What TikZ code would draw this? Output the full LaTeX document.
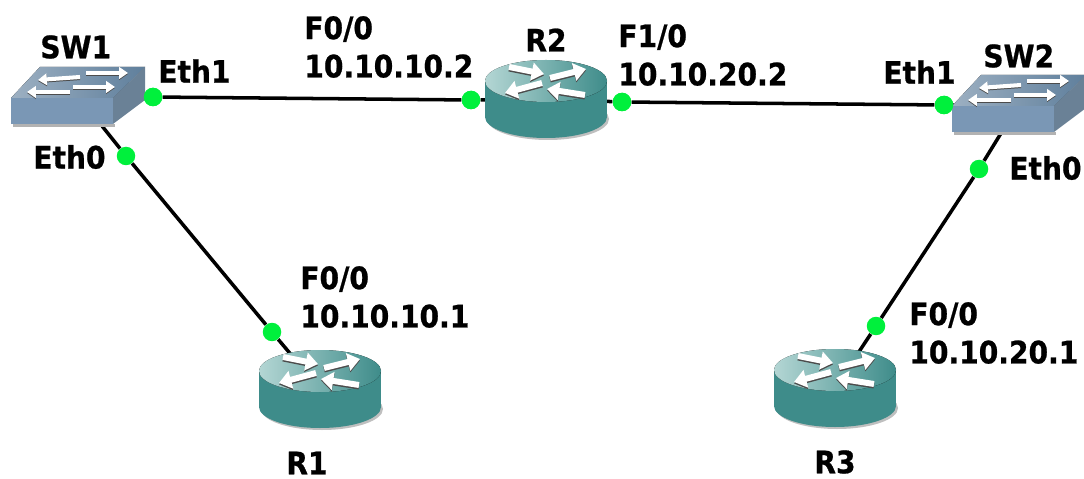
\documentclass[tikz,border=0pt]{standalone}
\usepackage{fontspec}
\setmainfont{DejaVu Sans}[BoldFeatures={FakeBold=0.8}]
\usetikzlibrary{arrows.meta}
\definecolor{routerteal}{HTML}{3E8C8A}
\definecolor{routerlight}{HTML}{B4D6D4}
\definecolor{swfront}{HTML}{7A97B5}
\definecolor{swtopa}{HTML}{9DB0C2}
\definecolor{swtopb}{HTML}{5F7F9C}
\definecolor{swside}{HTML}{6A8196}
\definecolor{portgreen}{HTML}{00F03C}
\tikzset{
  routernode/.style={minimum width=2.44cm,minimum height=1.56cm,inner sep=0pt},
  switchnode/.style={minimum width=2.68cm,minimum height=1.2cm,inner sep=0pt},
  portdot/.style={circle,fill=portgreen,minimum size=0.37cm,inner sep=0pt},
  link/.style={black,line width=2pt},
  lab/.style={anchor=west,align=left,inner sep=0pt,transform shape,yscale=1.1,font=\bfseries\fontsize{16}{19.8}\selectfont},
  whitearrow/.style={white,line width=3.4pt,-{Triangle[length=7pt,width=10pt]}},
  swarrow/.style={white,line width=2.3pt,-{Triangle[length=5pt,width=6.5pt]}},
  routerpic/.pic={
    \fill [black!25] (2,20) ellipse (61 and 21);
    \fill [routerteal] (-61,-18) rectangle (61,18);
    \fill [routerteal] (0,18) ellipse (61 and 21);
    \fill [left color=routerlight,middle color=routerteal,right color=routerteal] (0,-18) ellipse (61 and 21);
    \foreach \xa/\ya/\xb/\yb in {-37/-32/-2/-25,4/-21/40/-30,-4/-16/-41/-6,39/-4/1/-10} {
      \draw [whitearrow,black!70] (\xa,\ya+1.5) -- (\xb,\yb+1.5);
      \draw [whitearrow] (\xa,\ya) -- (\xb,\yb);
    }
  },
  switchpic/.pic={
    \fill [black!30] (-65,28) rectangle (37,31);
    \fill [left color=swtopa,right color=swtopb] (-67,2) -- (35,2) -- (67,-29) -- (-38,-29) -- cycle;
    \fill [swfront] (-67,2) rectangle (35,28);
    \fill [swside] (35,2) -- (67,-29) -- (67,4) -- (35,28) -- cycle;
    \foreach \xa/\ya/\xb/\yb in {8/-23/50/-23,2/-19/-40/-16,-5/-9/37/-9,-8/-4/-51/-4} {
      \draw [swarrow,black!70] (\xa,\ya+1) -- (\xb,\yb+1);
      \draw [swarrow] (\xa,\ya) -- (\xb,\yb);
    }
  }
}
\begin{document}
\begin{tikzpicture}[x=0.02cm,y=-0.02cm]
\useasboundingbox (0,0) rectangle (1084,479);
\node [switchnode] (SW1) at (78,96) {};
\node [switchnode] (SW2) at (1019,104) {};
\node [routernode] (R1) at (320,389) {};
\node [routernode] (R2) at (546,99) {};
\node [routernode] (R3) at (835,388) {};
\node [portdot] (SW1e1) at (153,97) {};
\node [portdot] (SW1e0) at (126,156) {};
\node [portdot] (R1f0) at (272,332) {};
\node [portdot] (R2f0) at (471,100) {};
\node [portdot] (R2f1) at (622,102) {};
\node [portdot] (SW2e1) at (944,105) {};
\node [portdot] (SW2e0) at (979,169) {};
\node [portdot] (R3f0) at (876,326) {};
\draw [link] (SW1) -- (SW1e1) -- (R2f0) -- (R2.center);
\draw [link] (R2.center) -- (R2f1) -- (SW2e1) -- (SW2);
\draw [link] (SW1) -- (SW1e0) -- (R1f0) -- (R1.center);
\draw [link] (SW2) -- (SW2e0) -- (R3f0) -- (R3.center);
\pic at (SW1) {switchpic};
\pic at (SW2) {switchpic};
\pic at (R1) {routerpic};
\pic at (R2) {routerpic};
\pic at (R3) {routerpic};
\node [portdot] at (SW1e1) {};
\node [portdot] at (R2f0) {};
\node [portdot] at (R2f1) {};
\node [portdot] at (SW2e1) {};
\node [lab] (labSW1) at (40,47) {SW1};
\node [lab] (labSW2) at (983,56) {SW2};
\node [lab] (labR1) at (286,463) {R1};
\node [lab] (labR2) at (525,40) {R2};
\node [lab] (labR3) at (814,462) {R3};
\node [lab] (labSW1e1) at (158,71) {Eth1};
\node [lab] (labSW1e0) at (33,157) {Eth0};
\node [lab] (labSW2e1) at (883,72) {Eth1};
\node [lab] (labSW2e0) at (1009,168) {Eth0};
\node [lab] (labR2f0) at (304,47) {F0/0\\10.10.10.2};
\node [lab] (labR2f1) at (618,55) {F1/0\\10.10.20.2};
\node [lab] (labR1f0) at (300,297) {F0/0\\10.10.10.1};
\node [lab] (labR3f0) at (909,333) {F0/0\\10.10.20.1};
\end{tikzpicture}
\end{document}
